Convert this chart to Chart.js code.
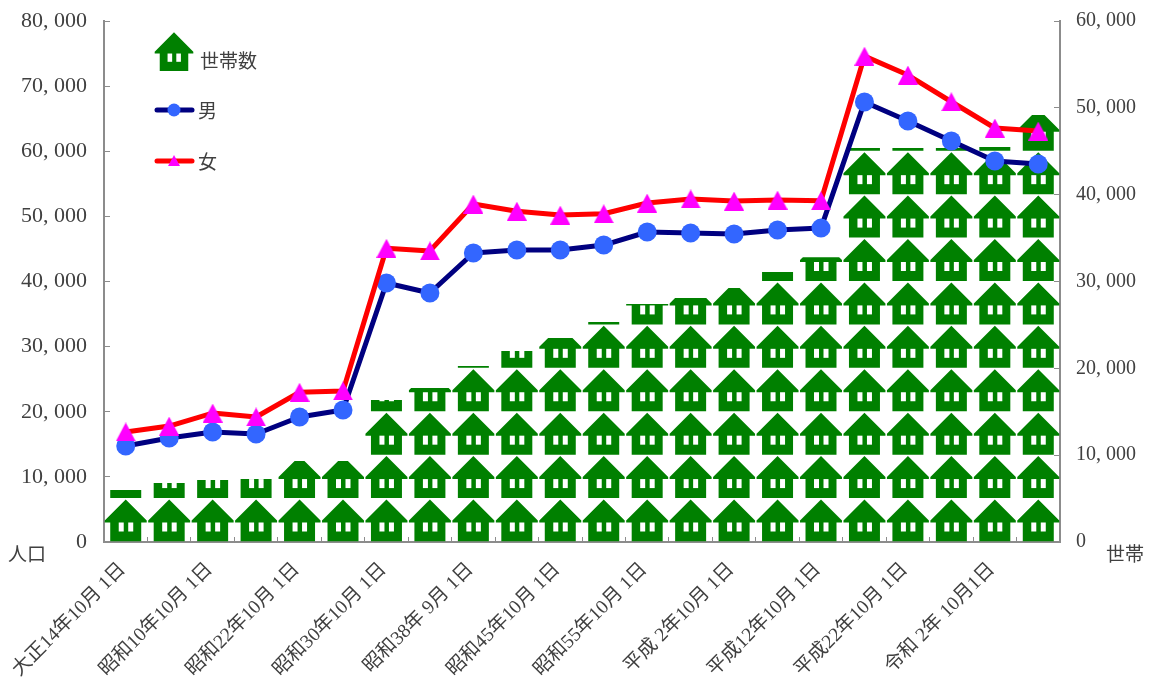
<!DOCTYPE html>
<html lang="ja">
<head>
<meta charset="utf-8">
<title>人口と世帯数の推移</title>
<script src="https://cdn.jsdelivr.net/npm/chart.js@4"></script>
<style>
  html, body { margin: 0; padding: 0; background: #fff; }
  #grafico { display: block; }
</style>
</head>
<body>
<canvas id="grafico" width="1149" height="679"></canvas>
<script>
// 国勢調査の年月日
const fechas = [
  '大正14年10月 1日', '昭和 5年10月 1日', '昭和10年10月 1日', '昭和15年10月 1日',
  '昭和22年10月 1日', '昭和25年10月 1日', '昭和30年10月 1日', '昭和35年10月 1日',
  '昭和38年 9月 1日', '昭和40年10月 1日', '昭和45年10月 1日', '昭和50年10月 1日',
  '昭和55年10月 1日', '昭和60年10月 1日', '平成 2年10月 1日', '平成 7年10月 1日',
  '平成12年10月 1日', '平成17年10月 1日', '平成22年10月 1日', '平成27年10月 1日',
  '令和 2年 10月1日', '令和 7年10月 1日'
];
const hombres = [14740, 15970, 16890, 16580, 19190, 20270, 39770, 38230, 44380, 44840, 44840,
  45600, 47600, 47450, 47300, 47900, 48200, 67560, 64640, 61570, 58500, 58040];
const mujeres = [16900, 17800, 19800, 19200, 23000, 23200, 45100, 44700, 51900, 50800, 50200,
  50400, 52050, 52670, 52360, 52500, 52400, 74600, 71700, 67600, 63570, 63100];
const hogares = [5990, 6800, 7140, 7250, 9330, 9330, 16350, 17730, 20270, 22000, 23500,
  25340, 27400, 28100, 29250, 31100, 32800, 45370, 45370, 45370, 45500, 49170];

const HOGARES_POR_CASA = 5000; // 家1個 = 5,000世帯
const FUENTE = '"Liberation Serif", "Noto Sans CJK JP"';
const COLOR_TEXTO = '#404040';
const COLOR_EJE = '#8c8c8c';
const VERDE = '#008000';

// 家のアイコン (x は中心, y は下端, s は倍率)
function dibujarCasa(ctx, x, y, s) {
  ctx.fillStyle = VERDE;
  ctx.beginPath();
  ctx.moveTo(x, y - 42 * s);
  ctx.lineTo(x + 21 * s, y - 21 * s);
  ctx.lineTo(x + 21 * s, y - 19 * s);
  ctx.lineTo(x + 15.5 * s, y - 19 * s);
  ctx.lineTo(x + 15.5 * s, y);
  ctx.lineTo(x - 15.5 * s, y);
  ctx.lineTo(x - 15.5 * s, y - 19 * s);
  ctx.lineTo(x - 21 * s, y - 19 * s);
  ctx.lineTo(x - 21 * s, y - 21 * s);
  ctx.closePath();
  ctx.fill();
  ctx.fillStyle = '#fff';
  ctx.fillRect(x - 7 * s, y - 19 * s, 5 * s, 9 * s);
  ctx.fillRect(x + 2.5 * s, y - 19 * s, 5 * s, 9 * s);
}

// 三角マーカー: 外接矩形の中心が点に来るように canvas で作る
function crearTriangulo(ancho, alto, color) {
  const c = document.createElement('canvas');
  c.width = ancho;
  c.height = alto;
  const g = c.getContext('2d');
  g.fillStyle = color;
  g.beginPath();
  g.moveTo(ancho / 2, 0);
  g.lineTo(ancho, alto);
  g.lineTo(0, alto);
  g.closePath();
  g.fill();
  return c;
}

// 棒を家の積み上げで描く
const pluginCasas = {
  id: 'casas',
  afterDatasetDraw(chart, args) {
    if (args.meta.type !== 'bar') return;
    const ctx = chart.ctx;
    const escala = chart.scales.yHogares;
    const paso = escala.getPixelForValue(0) - escala.getPixelForValue(HOGARES_POR_CASA);
    args.meta.data.forEach(function(barra) {
      ctx.save();
      ctx.beginPath();
      ctx.rect(barra.x - barra.width / 2, barra.y, barra.width, barra.base - barra.y);
      ctx.clip();
      for (let y = barra.base; y > barra.y; y -= paso) {
        dibujarCasa(ctx, barra.x, y, 1);
      }
      ctx.restore();
    });
  }
};

// 凡例と軸の単位
const pluginLeyenda = {
  id: 'leyenda',
  afterDraw(chart) {
    const ctx = chart.ctx;
    const ds = chart.data.datasets;
    ctx.save();
    ctx.font = '19px ' + FUENTE;
    ctx.textBaseline = 'middle';
    ctx.textAlign = 'left';

    dibujarCasa(ctx, 174, 71, 0.92);
    ctx.fillStyle = COLOR_TEXTO;
    ctx.fillText(ds[2].label, 200, 63);

    [[0, 110], [1, 161]].forEach(function(fila) {
      const d = ds[fila[0]];
      const y = fila[1];
      ctx.strokeStyle = d.borderColor;
      ctx.lineWidth = 5;
      ctx.lineCap = 'round';
      ctx.beginPath();
      ctx.moveTo(157, y);
      ctx.lineTo(192, y);
      ctx.stroke();
      if (d.pointStyle instanceof HTMLCanvasElement) {
        ctx.drawImage(d.pointStyle, 168, y - 6, 12, 11);
      } else {
        ctx.fillStyle = d.pointBackgroundColor;
        ctx.beginPath();
        ctx.arc(174, y, 6.5, 0, Math.PI * 2);
        ctx.fill();
      }
      ctx.fillStyle = COLOR_TEXTO;
      ctx.fillText(d.label, 198, y + 3);
    });

    ctx.fillText('人口', 8, 556);
    ctx.fillText('世帯', 1106, 556);
    ctx.restore();
  }
};

function conComa(valor) {
  return valor === 0 ? '0' : Number(valor).toLocaleString('en-US').replace(',', ', ');
}

// 軸の余白を固定する
function fijarEscala(escala, ancho, alto) {
  if (ancho) escala.width = ancho;
  if (alto) escala.height = alto;
  escala.paddingLeft = 0;
  escala.paddingRight = 0;
  escala.paddingTop = 0;
  escala.paddingBottom = 0;
}

const ctx = document.getElementById('grafico').getContext('2d');

new Chart(ctx, {
  type: 'bar',
  plugins: [pluginCasas, pluginLeyenda],
  data: {
    labels: fechas,
    datasets: [
      {
        type: 'line',
        label: '男',
        data: hombres,
        yAxisID: 'yPoblacion',
        order: 2,
        borderColor: '#000080',
        borderWidth: 5,
        borderJoinStyle: 'round',
        tension: 0,
        pointStyle: 'circle',
        pointRadius: 9.5,
        pointBorderWidth: 0,
        pointBackgroundColor: '#3366ff'
      },
      {
        type: 'line',
        label: '女',
        data: mujeres,
        yAxisID: 'yPoblacion',
        order: 1,
        borderColor: '#ff0000',
        borderWidth: 5,
        borderJoinStyle: 'round',
        tension: 0,
        pointStyle: crearTriangulo(20, 19, '#ff00ff'),
        pointRadius: 10,
        pointBorderWidth: 0,
        pointBackgroundColor: '#ff00ff'
      },
      {
        type: 'bar',
        label: '世帯数',
        data: hogares,
        yAxisID: 'yHogares',
        order: 3,
        backgroundColor: 'rgba(0, 0, 0, 0)',
        barPercentage: 1,
        categoryPercentage: 1
      }
    ]
  },
  options: {
    responsive: false,
    animation: false,
    devicePixelRatio: 1,
    layout: { padding: { top: 21, left: 0, right: 0, bottom: 0 } },
    plugins: {
      legend: { display: false },
      tooltip: { enabled: false }
    },
    scales: {
      x: {
        grid: { drawOnChartArea: false, tickLength: -5, color: COLOR_EJE },
        border: { color: COLOR_EJE, width: 2 },
        ticks: {
          autoSkip: false,
          minRotation: 45,
          maxRotation: 45,
          padding: 21,
          labelOffset: -3,
          color: COLOR_TEXTO,
          font: { family: FUENTE, size: 19.5 },
          callback: function(valor, i) {
            return i % 2 === 0 ? this.getLabelForValue(valor) : '';
          }
        },
        afterFit: function(escala) { fijarEscala(escala, 0, 137); }
      },
      yPoblacion: {
        position: 'left',
        min: 0,
        max: 80000,
        grid: { drawOnChartArea: false, tickLength: -6, color: COLOR_EJE },
        border: { color: COLOR_EJE, width: 2 },
        ticks: {
          stepSize: 10000,
          padding: 23,
          color: COLOR_TEXTO,
          font: { family: FUENTE, size: 22 },
          callback: conComa
        },
        afterFit: function(escala) { fijarEscala(escala, 104, 0); }
      },
      yHogares: {
        position: 'right',
        min: 0,
        max: 60000,
        grid: { drawOnChartArea: false, tickLength: -6, color: COLOR_EJE },
        border: { color: COLOR_EJE, width: 2 },
        ticks: {
          stepSize: 10000,
          padding: 22,
          color: COLOR_TEXTO,
          font: { family: FUENTE, size: 20 },
          callback: conComa
        },
        afterFit: function(escala) { fijarEscala(escala, 89, 0); }
      }
    }
  }
});
</script>
</body>
</html>
